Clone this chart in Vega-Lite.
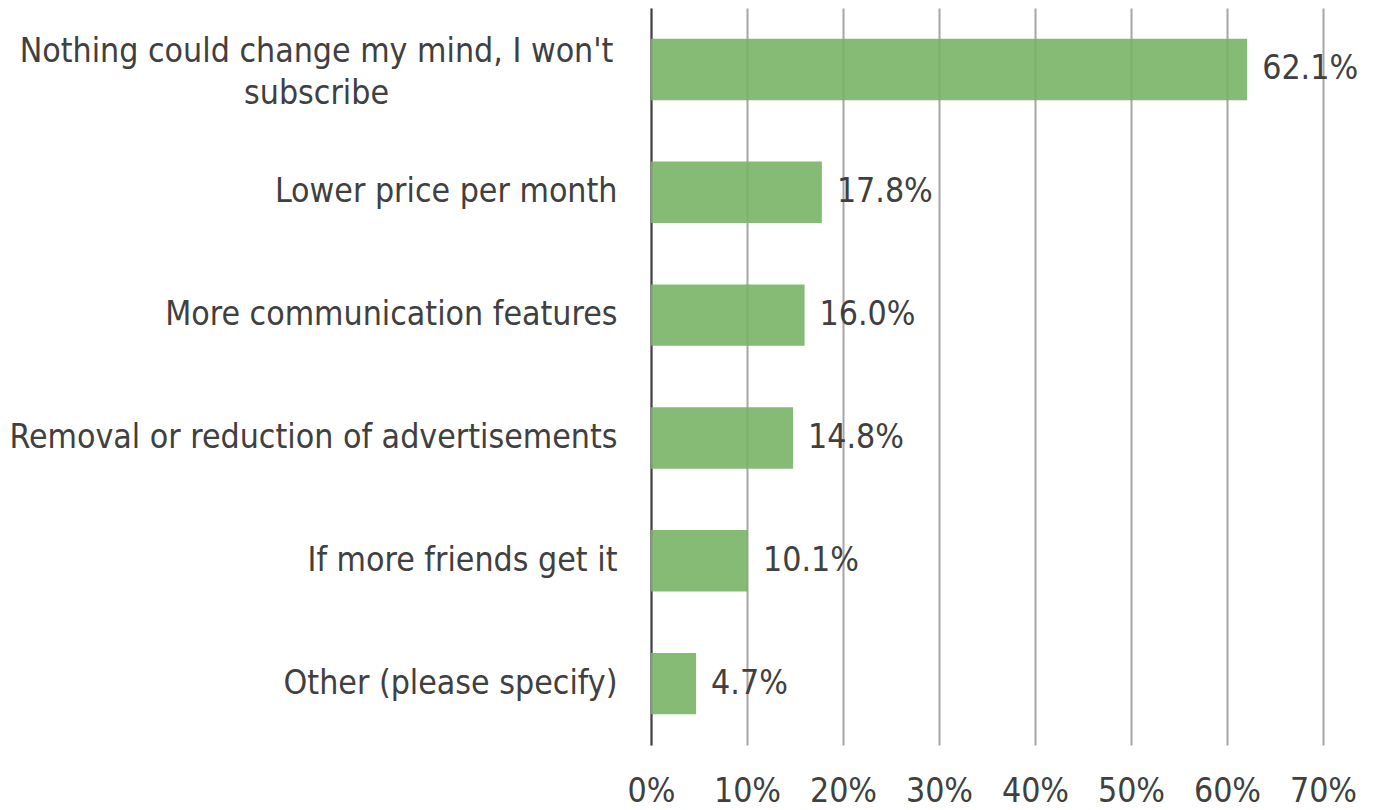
{
  "$schema": "https://vega.github.io/schema/vega-lite/v6.json",
  "autosize": "none",
  "width": 672,
  "height": 737,
  "padding": {"left": 651, "top": 8, "right": 59, "bottom": 65},
  "background": "white",
  "config": {
    "view": {"stroke": null},
    "font": "DejaVu Sans Condensed"
  },
  "data": {
    "values": [
      {"option": "Nothing could change my mind, I won't subscribe", "share": 0.621},
      {"option": "Lower price per month", "share": 0.178},
      {"option": "More communication features", "share": 0.160},
      {"option": "Removal or reduction of advertisements", "share": 0.148},
      {"option": "If more friends get it", "share": 0.101},
      {"option": "Other (please specify)", "share": 0.047}
    ]
  },
  "encoding": {
    "y": {
      "field": "option",
      "type": "nominal",
      "sort": null,
      "scale": {"paddingInner": 0.5, "paddingOuter": 0.25},
      "axis": {
        "title": null,
        "ticks": false,
        "domain": true,
        "domainColor": "#404040",
        "domainWidth": 2,
        "labelFont": "DejaVu Sans Condensed",
        "labelFontSize": 33.6,
        "labelColor": "#404040",
        "labelLimit": 1000,
        "labelLineHeight": 42,
        "labelExpr": "datum.value == \"Nothing could change my mind, I won't subscribe\" ? [\"Nothing could change my mind, I won't\", 'subscribe'] : datum.value",
        "labelAlign": {"condition": {"test": "indexof(datum.value, 'Nothing') == 0", "value": "center"}, "value": "right"},
        "labelPadding": {"condition": {"test": "indexof(datum.value, 'Nothing') == 0", "value": 335}, "value": 34},
        "labelOffset": {"condition": {"test": "indexof(datum.value, 'Nothing') == 0", "value": -17}, "value": 0}
      }
    },
    "x": {
      "field": "share",
      "type": "quantitative",
      "scale": {"domain": [0, 0.7], "nice": false},
      "axis": {
        "title": null,
        "format": ".0%",
        "values": [0, 0.1, 0.2, 0.3, 0.4, 0.5, 0.6, 0.7],
        "ticks": false,
        "domain": false,
        "grid": true,
        "gridColor": "#a6a6a6",
        "gridWidth": 2,
        "labelFlush": false,
        "labelFont": "DejaVu Sans Condensed",
        "labelFontSize": 33.6,
        "labelColor": "#404040",
        "labelPadding": 29
      }
    }
  },
  "layer": [
    {
      "mark": {"type": "bar", "color": "#78b466", "opacity": 0.9}
    },
    {
      "mark": {"type": "text", "align": "left", "baseline": "middle", "dx": 15, "fontSize": 33.6, "color": "#404040", "font": "DejaVu Sans Condensed"},
      "encoding": {
        "text": {"field": "share", "type": "quantitative", "format": ".1%"}
      }
    }
  ]
}
